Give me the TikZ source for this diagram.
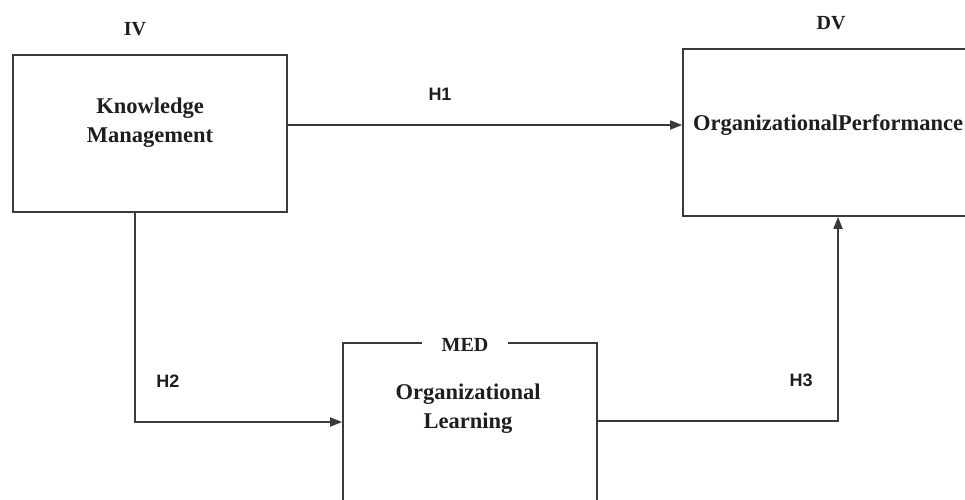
\documentclass[tikz,border=0pt]{standalone}
\usepackage{fontspec}
\setmainfont{Liberation Serif}
\newfontfamily\hfont{Liberation Sans}
\usetikzlibrary{arrows.meta}
\definecolor{linec}{HTML}{3A3A3A}
\definecolor{textc}{HTML}{1E1E1E}
\tikzset{
  box/.style={draw=linec, line width=1.7pt, inner sep=0pt, anchor=center},
  boxtext/.style={text=textc, font=\fontsize{22.5}{29}\selectfont\bfseries, align=center, inner sep=0pt},
  tag/.style={text=textc, font=\fontsize{20}{24}\selectfont\bfseries, inner sep=0pt},
  hyp/.style={text=textc, font=\hfont\fontsize{18}{22}\selectfont\bfseries, inner sep=0pt},
  arr/.style={draw=linec, line width=1.7pt, -{Triangle[length=12pt,width=9pt]}},
}
\begin{document}
\begin{tikzpicture}[x=1pt,y=-1pt]
\useasboundingbox[fill=white] (0,0) rectangle (965,499);
% boxes
\node[box, minimum width=274pt, minimum height=157pt] (km) at (150,133.5) {};
\node[box, minimum width=286pt, minimum height=167pt] (op) at (826,132.5) {};
\node[box, minimum width=254pt, minimum height=180pt] (ol) at (470,433) {};
% texts
\node[boxtext] (kmtext) at (150,123) {Knowledge\\Management};
\node[boxtext] (optext) at (828,125) {OrganizationalPerformance};
\node[boxtext] (oltext) at (468,409) {Organizational\\Learning};
\node[tag] (iv) at (135,29) {IV};
\node[tag] (dv) at (831,23) {DV};
\node[tag, fill=white, minimum width=86pt, minimum height=14pt] (med) at (465,345) {MED};
% connectors
\draw[arr] ([yshift=8.5pt]km.east) -- ([yshift=8.5pt]km.east -| op.west);
\draw[arr] ([xshift=-15pt]km.south) |- ([yshift=11pt]ol.west);
\draw[arr] ([yshift=12pt]ol.east) -| ([xshift=12pt]op.south);
% hypothesis labels
\node[hyp] (h1) at (440,94) {H1};
\node[hyp] (h2) at (168,381) {H2};
\node[hyp] (h3) at (801,380) {H3};
\end{tikzpicture}
\end{document}
